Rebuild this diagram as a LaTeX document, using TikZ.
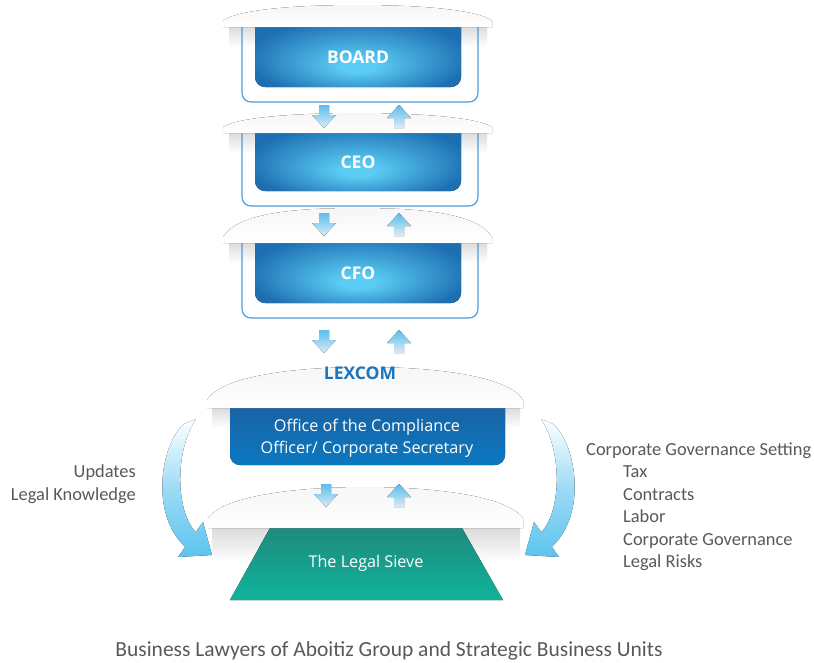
\documentclass[tikz,border=0pt]{standalone}
\usepackage{fontspec}
\setmainfont{Open Sans}
\newfontfamily\calfont{Carlito}
\definecolor{boxin}{HTML}{5BCDF4}
\definecolor{boxout}{HTML}{1E6FB2}
\definecolor{outl}{HTML}{4F9DDC}
\definecolor{arrblue}{HTML}{5BBDEB}
\definecolor{arrpale}{HTML}{DCEBF6}
\definecolor{lexblue}{HTML}{1C75BC}
\definecolor{offtop}{HTML}{1B5D9D}
\definecolor{offbot}{HTML}{0B79C2}
\definecolor{sievetop}{HTML}{1F8A7D}
\definecolor{sievebot}{HTML}{10B39B}
\definecolor{txtgrey}{HTML}{595959}
\definecolor{curvblue}{HTML}{5CC3EF}
\pgfdeclareradialshading{bluebox}{\pgfpoint{0bp}{-12bp}}{color(0bp)=(boxin); color(4bp)=(boxin); color(27bp)=(boxout); color(50bp)=(boxout)}
\tikzset{
  boxtext/.style={text=white, font=\fontsize{17.5}{20}\selectfont\bfseries},
  whitetext/.style={text=white, font=\fontsize{16.2}{22}\selectfont, align=center},
  greytext/.style={text=txtgrey, font=\calfont\fontsize{18.4}{21}\selectfont, inner sep=0pt, text height=1.4ex, text depth=0.3ex},
  lidfill/.style={top color=gray!7, bottom color=white},
  shadowfill/.style={top color=gray!28, bottom color=white},
  downarr/.pic={\fill[top color=arrblue, bottom color=arrpale] (-5,0) -- (5,0) -- (5,10) -- (12,10) -- (0,23) -- (-12,10) -- (-5,10) -- cycle;},
  uparr/.pic={\fill[top color=arrblue, bottom color=arrpale] (0,0) -- (12,13) -- (5,13) -- (5,23) -- (-5,23) -- (-5,13) -- (-12,13) -- cycle;}
}
% #1 lid bottom, #2 blue bottom, #3 outline bottom, #4 lid top, #5 name, #6 text
\newcommand\orgstage[6]{%
  \fill[shadowfill] (229,#1) rectangle (487,#1+20);
  \draw[outl, line width=1.2pt, rounded corners=9pt] (242,#1-8) rectangle (478,#3);
  \fill[shading=bluebox, rounded corners=10pt] (255,#1-14) rectangle (461,#2);
  \fill[lidfill] (223,#1) -- (223,#1-6) .. controls (238,#4+4) and (300,#4) .. (357.5,#4) .. controls (415,#4) and (477,#4+4) .. (492,#1-6) -- (492,#1) -- cycle;
  \node[boxtext] (#5) at (358,{(#1+#2)/2}) {#6};
}
\begin{document}
\begin{tikzpicture}[x=1pt,y=-1pt]
\useasboundingbox (0,0) rectangle (814,662);
\fill[white] (0,0) rectangle (814,662);

\orgstage{27}{87}{102}{5}{board}{BOARD}
\orgstage{133}{191}{206}{113}{ceo}{CEO}
\orgstage{243}{303}{318}{208}{cfo}{CFO}

\pic at (324,105) {downarr};
\pic at (399,105) {uparr};
\pic at (324,213) {downarr};
\pic at (399,213) {uparr};
\pic at (324,330) {downarr};
\pic at (399,330) {uparr};

% lower part
\fill[shadowfill] (212,408) rectangle (520,428);
\fill[top color=offtop, bottom color=offbot, rounded corners=10pt] (230,394) rectangle (505,465);
\fill[lidfill] (207,408) -- (207,400) .. controls (222,375) and (300,367) .. (365,367) .. controls (430,367) and (508,375) .. (523,400) -- (523,408) -- cycle;
\node[text=lexblue, font=\fontsize{17.5}{20}\selectfont\bfseries] (lexcom) at (360,373) {LEXCOM};
\node[whitetext] (office) at (367,438.5) {Office of the Compliance\\Officer/ Corporate Secretary};

\fill[shadowfill] (212,528) rectangle (520,562);
\fill[top color=sievetop, bottom color=sievebot] (270,528) -- (462,528) -- (503,600) -- (230,600) -- cycle;
\fill[lidfill] (208,528) -- (208,518) .. controls (225,495) and (300,487) .. (365,487) .. controls (430,487) and (506,495) .. (523,518) -- (523,528) -- cycle;
\node[whitetext] (sieve) at (366,563) {The Legal Sieve};

\pic at (326,484) {downarr};
\pic at (399,484) {uparr};

% curved arrows
\fill[top color=white, bottom color=curvblue, middle color=curvblue!60] (184,424) .. controls (160,445) and (150,515) .. (185.3,546.8) -- (178,557) -- (212,555) -- (203,522) -- (195.7,532.2) .. controls (175,510) and (175,450) .. (196,419) -- cycle;
\begin{scope}[xshift=737pt, xscale=-1]
\fill[top color=white, bottom color=curvblue, middle color=curvblue!60] (184,424) .. controls (160,445) and (150,515) .. (185.3,546.8) -- (178,557) -- (212,555) -- (203,522) -- (195.7,532.2) .. controls (175,510) and (175,450) .. (196,419) -- cycle;
\end{scope}

% texts
\node[greytext, anchor=east] (upd) at (136,475) {Updates};
\node[greytext, anchor=east] (lk) at (136,498) {Legal Knowledge};
\node[greytext, anchor=west] (cgs) at (586,453) {Corporate Governance Setting};
\node[greytext, anchor=west] (tax) at (623,475) {Tax};
\node[greytext, anchor=west] (con) at (623,497.5) {Contracts};
\node[greytext, anchor=west] (lab) at (623,520) {Labor};
\node[greytext, anchor=west] (cg) at (623,542.5) {Corporate Governance};
\node[greytext, anchor=west] (lr) at (623,565) {Legal Risks};
\node[text=txtgrey, font=\calfont\fontsize{21.5}{24}\selectfont, inner sep=0pt, anchor=base] (blu) at (389,656) {Business Lawyers of Aboitiz Group and Strategic Business Units};
\end{tikzpicture}
\end{document}
